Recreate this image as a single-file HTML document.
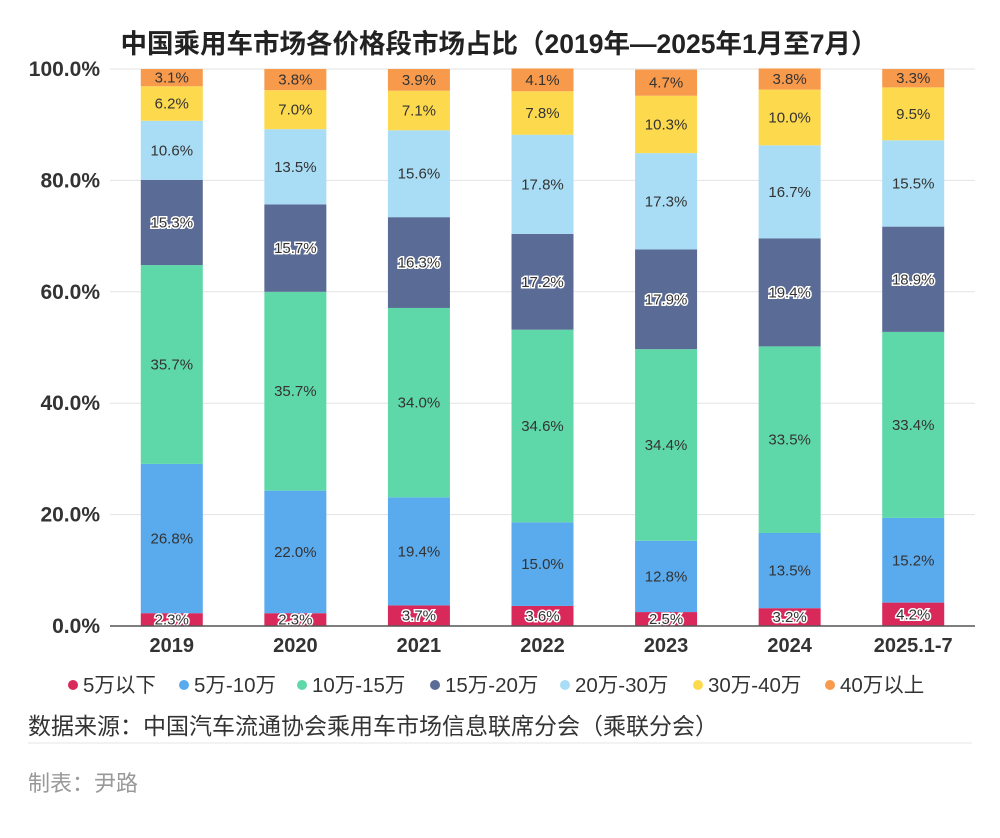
<!DOCTYPE html>
<html><head><meta charset="utf-8"><style>
body{margin:0;background:#fff;width:1000px;height:833px;overflow:hidden;font-family:"Liberation Sans","Noto Sans CJK SC",sans-serif}
svg text{font-family:"Liberation Sans","Noto Sans CJK SC",sans-serif}
</style></head><body>
<svg id="chart" width="1000" height="833">
<text x="499" y="53" text-anchor="middle" font-size="26.5" font-weight="bold" fill="#222">中国乘用车市场各价格段市场占比（2019年—2025年1月至7月）</text>
<g id="grid"></g><g id="bars"></g><g id="axis"></g><g id="legend"></g>
<text x="28" y="734" font-size="23" fill="#333">数据来源：中国汽车流通协会乘用车市场信息联席分会（乘联分会）</text>
<line x1="28" y1="743" x2="972" y2="743" stroke="#e6e6e6"/>
<text x="28" y="791" font-size="22" fill="#999">制表：尹路</text>
</svg>
<script>
const categories=["2019","2020","2021","2022","2023","2024","2025.1-7"];
const seriesNames=["5万以下","5万-10万","10万-15万","15万-20万","20万-30万","30万-40万","40万以上"];
const s1=[2.3,2.3,3.7,3.6,2.5,3.2,4.2];
const s2=[26.8,22.0,19.4,15.0,12.8,13.5,15.2];
const s3=[35.7,35.7,34.0,34.6,34.4,33.5,33.4];
const s4=[15.3,15.7,16.3,17.2,17.9,19.4,18.9];
const s5=[10.6,13.5,15.6,17.8,17.3,16.7,15.5];
const s6=[6.2,7.0,7.1,7.8,10.3,10.0,9.5];
const s7=[3.1,3.8,3.9,4.1,4.7,3.8,3.3];
const yTicks=[0,20,40,60,80,100];
const series=[s1,s2,s3,s4,s5,s6,s7];
const colors=["#d9285a","#5aaaee","#5fd8a9","#5a6b95","#a9ddf5","#fdd94e","#f79a4c"];
const outlined=[true,false,false,true,false,false,false];
const NS="http://www.w3.org/2000/svg";
const L=110,R=975,T=69,B=626;
const bw=(R-L)/categories.length;
const x=i=>L+bw*(i+0.5);
const y=v=>B-(v/100)*(B-T);
function mk(tag,attrs,parent){const e=document.createElementNS(NS,tag);for(const k in attrs)e.setAttribute(k,attrs[k]);parent.appendChild(e);return e;}
const grid=document.getElementById('grid'),bars=document.getElementById('bars'),axis=document.getElementById('axis'),legend=document.getElementById('legend');
yTicks.forEach(t=>{
 if(t>0){const g=mk('line',{x1:L,x2:R,y1:y(t),y2:y(t),stroke:'#e3e3e3'},grid);
 
 }
 const tx=mk('text',{x:100,y:y(t)+7,'text-anchor':'end','font-size':21,'font-weight':'bold',fill:'#333'},axis);
 tx.textContent=t.toFixed(1)+'%';
 
 
});
const ax=mk('line',{x1:L,x2:R,y1:B,y2:B,stroke:'#555','stroke-width':1.5},axis);


categories.forEach((c,i)=>{
 let cum=0;
 series.forEach((s,j)=>{
  const v=s[i];const y0=y(cum),y1=y(cum+v);cum+=v;
  const r=mk('rect',{x:x(i)-31,y:y1,width:62,height:y0-y1,fill:colors[j]},bars);
  
  
  const t=mk('text',{x:x(i),y:(y0+y1)/2+5,'text-anchor':'middle','font-size':15,fill:'#333'},bars);
  if(outlined[j]){t.setAttribute('stroke','#fff');t.setAttribute('stroke-width','3');t.setAttribute('paint-order','stroke');}
  t.textContent=v.toFixed(1)+'%';
  
  
 });
 const tx=mk('text',{x:x(i),y:652,'text-anchor':'middle','font-size':20,'font-weight':'bold',fill:'#333'},axis);
 tx.textContent=c;
 
 
});
const lx=[73,184,302,435,565,698,830];
seriesNames.forEach((n,j)=>{
 const g=mk('g',{},legend);
 
 
 mk('circle',{cx:lx[j],cy:685,r:5,fill:colors[j]},g);
 const t=mk('text',{x:lx[j]+10,y:692,'font-size':20.5,fill:'#333'},g);
 t.textContent=n;
});
</script>
</body></html>
